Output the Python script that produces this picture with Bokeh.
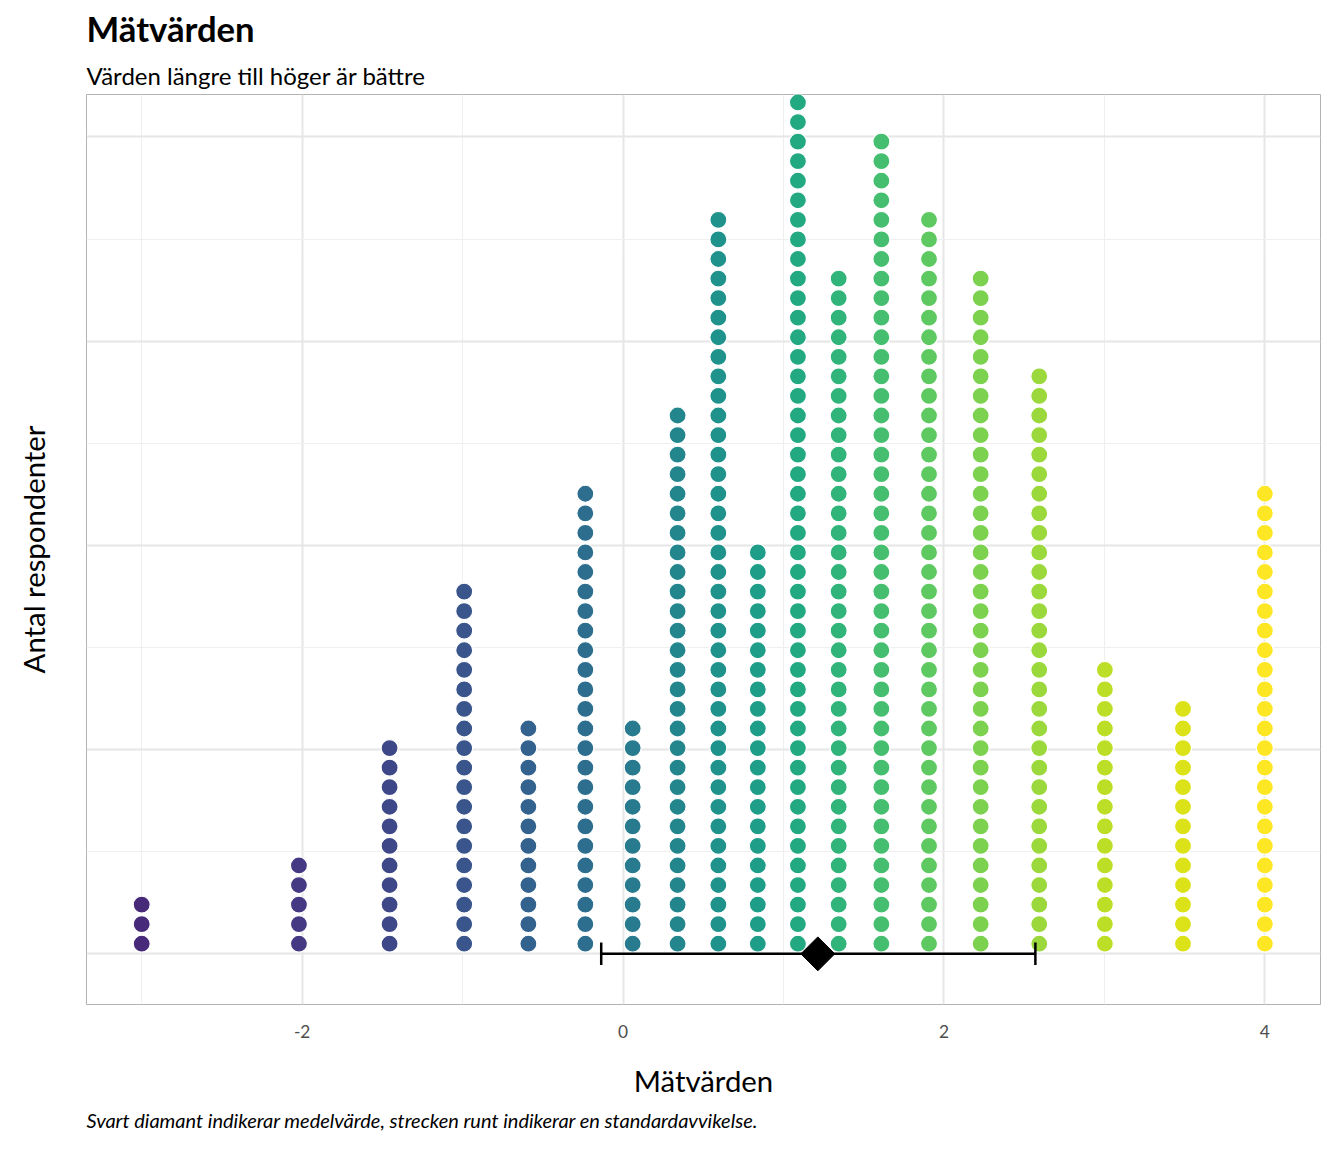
from bokeh.plotting import figure
from bokeh.models import Title, FixedTicker
from bokeh.palettes import Viridis256
from bokeh.embed import file_html
from bokeh.resources import INLINE

# column positions (Mätvärden) and number of respondents in each column
values = [-3.0, -2.02, -1.455, -0.99, -0.59, -0.235, 0.06, 0.34, 0.594, 0.84,
          1.09, 1.344, 1.61, 1.907, 2.229, 2.594, 3.003, 3.49, 4.0]
counts = [3, 5, 11, 19, 12, 24, 12, 28, 38, 21, 44, 35, 42, 38, 35, 30, 15, 13, 24]
mean_value = 1.214
sd_low = -0.136
sd_high = 2.57

FONT = "Lato"
step = 0.0958   # vertical spacing of stacked dots in axis units
base = 0.0496

xs, ys, cols = [], [], []
ncol = len(values)
for i, (v, n) in enumerate(zip(values, counts)):
    idx = int(30 + i / (ncol - 1) * 225)
    for k in range(n):
        xs.append(v)
        ys.append(base + k * step)
        cols.append(Viridis256[min(idx, 255)])

p = figure(width=1328, height=1136, output_backend="svg", toolbar_location=None,
           x_range=(-3.344, 4.347), y_range=(-0.248, 4.208),
           min_border_left=86, min_border_right=8, min_border_bottom=20,
           min_border_top=10)
p.background_fill_color = "white"
p.outline_line_color = "#b3b3b3"
p.outline_line_width = 1

p.add_layout(Title(text="Värden längre till höger är bättre", text_font=FONT,
                   text_font_size="18pt", text_font_style="normal", text_color="black",
                   align="left"), "above")
p.add_layout(Title(text="Mätvärden", text_font=FONT, text_font_size="26pt",
                   text_font_style="bold", text_color="black", align="left"), "above")
p.add_layout(Title(text="Svart diamant indikerar medelvärde, strecken runt indikerar en standardavvikelse.",
                   text_font=FONT, text_font_size="15pt", text_font_style="italic",
                   text_color="black", align="left"), "below")

p.xaxis.ticker = FixedTicker(ticks=[-2, 0, 2, 4], minor_ticks=[-3, -1, 1, 3])
p.xaxis.major_label_overrides = {-2: "-2", 0: "0", 2: "2", 4: "4"}
p.yaxis.ticker = FixedTicker(ticks=[0, 1, 2, 3, 4], minor_ticks=[0.5, 1.5, 2.5, 3.5])
p.yaxis.major_label_overrides = {0: "", 1: "", 2: "", 3: "", 4: ""}
for ax in (p.xaxis, p.yaxis):
    ax.axis_line_color = None
    ax.major_tick_line_color = None
    ax.minor_tick_line_color = None
    ax.axis_label_text_font = FONT
    ax.axis_label_text_font_size = "22pt"
    ax.axis_label_text_font_style = "normal"
    ax.axis_label_text_color = "black"
    ax.major_label_text_font = FONT
    ax.major_label_text_font_size = "13pt"
    ax.major_label_text_color = "#4d4d4d"
p.xaxis.axis_label = "Mätvärden"
p.yaxis.axis_label = "Antal respondenter"
p.yaxis.major_label_standoff = 0
p.yaxis.axis_label_standoff = 30
p.xaxis.major_label_standoff = 14
p.xaxis.axis_label_standoff = 22

p.grid.grid_line_color = "#e6e6e6"
p.grid.grid_line_width = 2
p.grid.minor_grid_line_color = "#efefef"
p.grid.minor_grid_line_width = 1

p.scatter(xs, ys, size=17, fill_color=cols, line_color="white", line_width=1.2)

p.segment(x0=[sd_low], y0=[0], x1=[sd_high], y1=[0], line_color="black", line_width=2.5)
p.segment(x0=[sd_low, sd_high], y0=[-0.055, -0.055], x1=[sd_low, sd_high], y1=[0.055, 0.055],
          line_color="black", line_width=2.5)
p.scatter([mean_value], [0], marker="square", angle=0.785398, size=24,
          fill_color="black", line_color="black")

open("out.html", "w").write(file_html(p, INLINE))
